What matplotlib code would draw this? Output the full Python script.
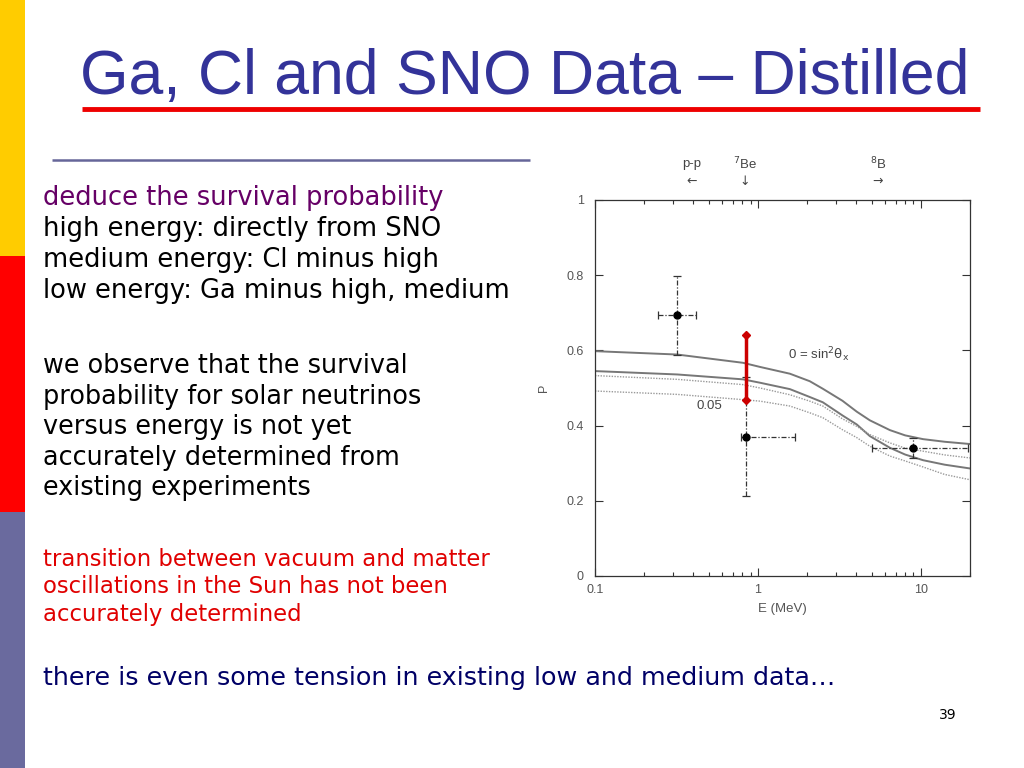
import numpy as np
import matplotlib.pyplot as plt
from matplotlib.patches import Rectangle
from matplotlib.ticker import FixedLocator, NullFormatter

# survival probability curves
energy = [0.1, 0.32, 0.81, 1.03, 1.57, 2.08, 2.5, 3.3, 4.04, 4.86, 6.45, 8.0, 10.3, 14, 20]
p_solid_upper = [0.598, 0.589, 0.567, 0.556, 0.538, 0.518, 0.498, 0.466, 0.437, 0.414, 0.388, 0.374, 0.364, 0.357, 0.351]
p_solid_lower = [0.545, 0.536, 0.523, 0.514, 0.497, 0.476, 0.462, 0.427, 0.403, 0.372, 0.341, 0.323, 0.308, 0.296, 0.286]
p_dot_upper = [0.533, 0.523, 0.509, 0.500, 0.482, 0.465, 0.452, 0.418, 0.398, 0.376, 0.354, 0.340, 0.332, 0.322, 0.314]
p_dot_lower = [0.492, 0.483, 0.469, 0.465, 0.452, 0.434, 0.421, 0.389, 0.368, 0.345, 0.319, 0.306, 0.290, 0.270, 0.256]

# data points (Ga / pp, Cl / 7Be, SNO / 8B)
pt_e = [0.32, 0.84, 8.9]
pt_p = [0.693, 0.370, 0.341]
pt_e_lo = [0.244, 0.787, 5.0]
pt_e_hi = [0.417, 1.69, 19.5]
pt_p_lo = [0.589, 0.213, 0.315]
pt_p_hi = [0.797, 0.528, 0.368]

# red bar
red_e = [0.84, 0.84]
red_p = [0.467, 0.640]

y_ticks = [0, 0.2, 0.4, 0.6, 0.8, 1]
y_tick_labels = ['0', '0.2', '0.4', '0.6', '0.8', '1']
x_ticks = [0.1, 1, 10]
x_tick_labels = ['0.1', '1', '10']

title = 'Ga, Cl and SNO Data \u2013 Distilled'
para1_head = 'deduce the survival probability'
para1 = ['high energy: directly from SNO',
         'medium energy: Cl minus high',
         'low energy: Ga minus high, medium']
para2 = ['we observe that the survival',
         'probability for solar neutrinos',
         'versus energy is not yet',
         'accurately determined from',
         'existing experiments']
para3 = ['transition between vacuum and matter',
         'oscillations in the Sun has not been',
         'accurately determined']
bottom_line = 'there is even some tension in existing low and medium data\u2026'

fig = plt.figure(figsize=(10.24, 7.68), dpi=100)

# slide background in pixel coordinates
bg = fig.add_axes([0, 0, 1, 1])
bg.set_xlim(0, 1024)
bg.set_ylim(768, 0)
bg.axis('off')
bg.add_patch(Rectangle((0, 0), 25, 256, color='#FFCC00', lw=0))
bg.add_patch(Rectangle((0, 256), 25, 256, color='#FF0000', lw=0))
bg.add_patch(Rectangle((0, 512), 25, 256, color='#6A6A9E', lw=0))
bg.plot([82, 980], [109, 109], color='#EE0000', lw=3.5, solid_capstyle='butt')
bg.plot([52, 530], [160, 160], color='#666699', lw=1.8, solid_capstyle='butt')

bg.text(80, 94, title, fontsize=45, color='#333399', family='Liberation Sans',
        va='baseline', ha='left')

body = 'DejaVu Sans'
bg.text(43, 198, para1_head, fontsize=18.5, color='#660066', family=body, va='center')
for i, line in enumerate(para1):
    bg.text(43, 229 + i * 31, line, fontsize=18.5, color='black', family=body, va='center')
for i, line in enumerate(para2):
    bg.text(43, 366 + i * 30.6, line, fontsize=18.4, color='black', family=body, va='center')
for i, line in enumerate(para3):
    bg.text(43, 559 + i * 27.5, line, fontsize=16.4, color='#E00000', family=body, va='center')
bg.text(43, 678, bottom_line, fontsize=18.3, color='#000066', family=body, va='center')
bg.text(948, 715, '39', fontsize=10, color='black', family=body, va='center', ha='center')

# the chart
ax = fig.add_axes([595 / 1024, 1 - 576 / 768, 375 / 1024, 376 / 768])
gray = '#555555'
ax.plot(energy, p_solid_upper, color='#777777', lw=1.4)
ax.plot(energy, p_solid_lower, color='#777777', lw=1.4)
ax.plot(energy, p_dot_upper, color='#999999', lw=1.0, ls=(0, (1, 1)))
ax.plot(energy, p_dot_lower, color='#999999', lw=1.0, ls=(0, (1, 1)))

xerr = [np.array(pt_e) - np.array(pt_e_lo), np.array(pt_e_hi) - np.array(pt_e)]
yerr = [np.array(pt_p) - np.array(pt_p_lo), np.array(pt_p_hi) - np.array(pt_p)]
eb = ax.errorbar(pt_e, pt_p, xerr=xerr, yerr=yerr, fmt='o', color='black', ms=5,
                 ecolor='#333333', elinewidth=0.9, capsize=3, capthick=0.9)
for lc in eb[2]:
    lc.set_linestyle((0, (4, 1.5, 1, 1.5)))

ax.plot(red_e, red_p, color='#CC0000', lw=2.5, marker='D', ms=4.5)

ax.set_xscale('log')
ax.set_xlim(0.1, 20)
ax.set_ylim(0, 1)
ax.xaxis.set_major_locator(FixedLocator(x_ticks))
ax.set_xticklabels(x_tick_labels)
ax.xaxis.set_minor_locator(FixedLocator(
    [v * d for d in (0.1, 1) for v in range(2, 10)] + [20]))
ax.xaxis.set_minor_formatter(NullFormatter())
ax.set_yticks(y_ticks)
ax.set_yticklabels(y_tick_labels)
ax.tick_params(which='both', direction='in', top=True, right=True,
               colors='#333333', labelcolor=gray, labelsize=9, width=0.8)
ax.tick_params(which='major', length=6)
ax.tick_params(which='minor', length=3)
ax.tick_params(axis='y', pad=8)
ax.tick_params(axis='x', pad=6)
for lab in ax.get_xticklabels() + ax.get_yticklabels():
    lab.set_family('Liberation Sans')
for s in ax.spines.values():
    s.set_color('#333333')
    s.set_linewidth(0.9)

ax.set_xlabel('E (MeV)', fontsize=9.5, color=gray, family='Liberation Sans', labelpad=5)
ax.set_ylabel('P', fontsize=9, color=gray, family='Liberation Sans', labelpad=12)

ax.text(1.52, 0.59, r'0 = sin$^2\mathrm{\theta}_\mathrm{x}$', fontsize=9.5, color='#444444',
        family='Liberation Sans', va='center')
ax.text(0.42, 0.453, '0.05', fontsize=9.5, color='#444444',
        family='Liberation Sans', va='center')

# source labels above the chart
for e, lab, arrow in [(0.39, 'p-p', '\u2190'), (0.83, '$^7$Be', '\u2193'), (5.45, '$^8$B', '\u2192')]:
    ax.text(e, 1.095, lab, fontsize=9.5, color='#444444', ha='center', va='center',
            family='Liberation Sans', transform=ax.get_xaxis_transform())
    ax.text(e, 1.05, arrow, fontsize=9, color='#444444', ha='center', va='center',
            family='DejaVu Sans', transform=ax.get_xaxis_transform())

fig.savefig('out.png', dpi=100)
